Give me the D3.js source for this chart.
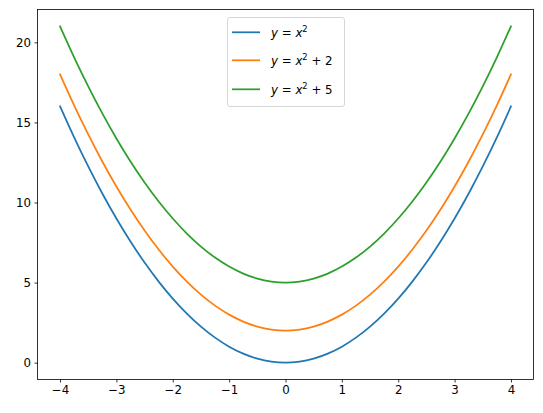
<!DOCTYPE html>
<html><head><meta charset="utf-8">
<script src="https://cdn.jsdelivr.net/npm/d3@7"></script>
<style>body{margin:0;background:#fff}svg{display:block}text{font-family:"DejaVu Sans",sans-serif}</style>
</head><body><svg id="c" width="543" height="413"></svg>
<script>
const xValues = [-4,-3.75,-3.5,-3.25,-3,-2.75,-2.5,-2.25,-2,-1.75,-1.5,-1.25,-1,-0.75,-0.5,-0.25,0,0.25,0.5,0.75,1,1.25,1.5,1.75,2,2.25,2.5,2.75,3,3.25,3.5,3.75,4];
const ySquare = [16,14.0625,12.25,10.5625,9,7.5625,6.25,5.0625,4,3.0625,2.25,1.5625,1,0.5625,0.25,0.0625,0,0.0625,0.25,0.5625,1,1.5625,2.25,3.0625,4,5.0625,6.25,7.5625,9,10.5625,12.25,14.0625,16];
const ySquarePlus2 = [18,16.0625,14.25,12.5625,11,9.5625,8.25,7.0625,6,5.0625,4.25,3.5625,3,2.5625,2.25,2.0625,2,2.0625,2.25,2.5625,3,3.5625,4.25,5.0625,6,7.0625,8.25,9.5625,11,12.5625,14.25,16.0625,18];
const ySquarePlus5 = [21,19.0625,17.25,15.5625,14,12.5625,11.25,10.0625,9,8.0625,7.25,6.5625,6,5.5625,5.25,5.0625,5,5.0625,5.25,5.5625,6,6.5625,7.25,8.0625,9,10.0625,11.25,12.5625,14,15.5625,17.25,19.0625,21];
const xTicks = [-4,-3,-2,-1,0,1,2,3,4];
const yTicks = [0,5,10,15,20];
const seriesNames = ["y = x^2","y = x^2 + 2","y = x^2 + 5"];
const seriesColors = ["#1f77b4","#ff7f0e","#2ca02c"];
const seriesData = [ySquare, ySquarePlus2, ySquarePlus5];

const L=37.5, R=533.5, T=9.5, B=379.5;
const svg = d3.select("#c");
const x = d3.scaleLinear().domain([-4.4,4.4]).range([L,R]);
const y = d3.scaleLinear().domain([-1.05,22.05]).range([B,T]);
const fs = "11.8px";

const line = d3.line().x((d,i)=>x(xValues[i])).y(d=>y(d)).curve(d3.curveNatural);
seriesData.forEach((s,k)=>{
  svg.append("path").datum(s).attr("d",line).attr("fill","none")
    .attr("stroke",seriesColors[k]).attr("stroke-width",1.75).attr("stroke-linecap","square");
});

const xa = svg.append("g").attr("transform",`translate(0,${B})`)
  .call(d3.axisBottom(x).tickValues(xTicks).tickSize(3).tickPadding(3.5).tickFormat(d3.format("d")));
const ya = svg.append("g").attr("transform",`translate(${L},0)`)
  .call(d3.axisLeft(y).tickValues(yTicks).tickSize(3).tickPadding(3.5).tickFormat(d3.format("d")));
[xa,ya].forEach(a=>{
  a.select(".domain").remove();
  a.selectAll("line").attr("stroke","#000").attr("stroke-width",0.8);
  a.selectAll("text").attr("font-size",fs).attr("fill","#000").attr("font-family","DejaVu Sans");
});
svg.append("rect").attr("x",L).attr("y",T).attr("width",R-L).attr("height",B-T)
  .attr("fill","none").attr("stroke","#000").attr("stroke-width",0.8);

// legend
const lg = svg.append("g");
lg.append("rect").attr("x",227.5).attr("y",17.5).attr("width",117).attr("height",89).attr("rx",2.5)
  .attr("fill","#fff").attr("fill-opacity",0.8).attr("stroke","#cccccc").attr("stroke-width",0.8);
const rowsY=[32.3,60.3,89.3];
const extras=["",  " + 2", " + 5"];
seriesNames.forEach((n,k)=>{
  lg.append("line").attr("x1",232).attr("x2",260).attr("y1",rowsY[k]).attr("y2",rowsY[k])
    .attr("stroke",seriesColors[k]).attr("stroke-width",1.75);
  const t = lg.append("text").attr("x",271).attr("y",rowsY[k]+4.3).attr("font-size",fs).attr("fill","#000");
  t.append("tspan").attr("font-style","italic").text("y");
  t.append("tspan").text(" = ");
  t.append("tspan").attr("font-style","italic").text("x");
  t.append("tspan").attr("font-size","8.3px").attr("dy",-5).text("2");
  if(extras[k]) t.append("tspan").attr("dy",5).text(extras[k]);
});
</script></body></html>
